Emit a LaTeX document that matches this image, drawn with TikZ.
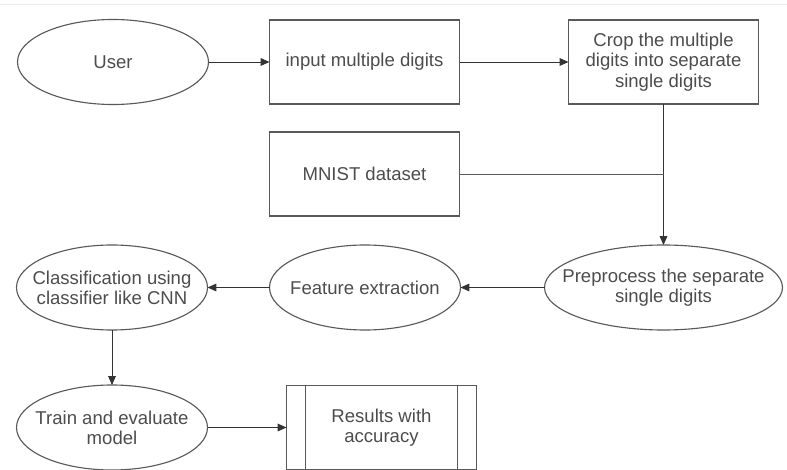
\documentclass[tikz,border=0pt]{standalone}
\usepackage{fontspec}
\setmainfont{Liberation Sans}
\usetikzlibrary{shapes.geometric, arrows.meta, positioning}
\tikzset{%
oval/.style={
    ellipse, draw=black!65, thick,
    minimum width=4.775cm, minimum height=2.125cm,
    inner xsep=-1.2cm, inner ysep=0pt, outer sep=0pt,
    align=center, text=black!70, font=\fontsize{13.2}{14.4}\selectfont
},
box/.style={
    rectangle, draw=black!65, thick,
    minimum width=4.75cm, minimum height=2.1cm,
    inner sep=0pt, outer sep=0pt,
    align=center, text=black!70, font=\fontsize{13.2}{14.4}\selectfont
},
flow/.style={-{Triangle[length=2.2mm,width=1.9mm]}, black!80, semithick},
}

\begin{document}
\begin{tikzpicture}[]
\useasboundingbox (0,0) rectangle (19.675,-11.75);
\draw [black!8, thick] (0,-0.12) -- (19.675,-0.12);

\node (user) [oval] at (2.825,-1.55) {User};
\node (input) [box, right=1.525cm of user] {input multiple digits};
\node (crop) [box, right=2.725cm of input] {Crop the multiple\\digits into separate\\single digits};
\node (mnist) [box, below=0.7cm of input] {MNIST dataset};
\node (prep) [oval, minimum width=5.95cm, below=3.525cm of crop] {Preprocess the separate\\single digits};
\node (feat) [oval, left=2.1cm of prep] {Feature extraction};
\node (cls) [oval, left=1.55cm of feat] {Classification using\\classifier like CNN};
\node (train) [oval, below=1.375cm of cls] {Train and evaluate\\model};
\node (res) [box, right=1.975cm of train] {Results with\\accuracy};
% side bars of the result box
\draw [black!65, thick] ([xshift=0.475cm]res.north west) -- ([xshift=0.475cm]res.south west);
\draw [black!65, thick] ([xshift=-0.475cm]res.north east) -- ([xshift=-0.475cm]res.south east);

\draw [flow] (user) -- (input);
\draw [flow] (input) -- (crop);
\draw [flow] (crop) -- (prep);
\coordinate (join) at (crop.south |- mnist.east);
\draw [black!65, semithick] (mnist) -- (join);
\draw [flow] (prep) -- (feat);
\draw [flow] (feat) -- (cls);
\draw [flow] (cls) -- (train);
\draw [flow] (train) -- (res);
\end{tikzpicture}
\end{document}
